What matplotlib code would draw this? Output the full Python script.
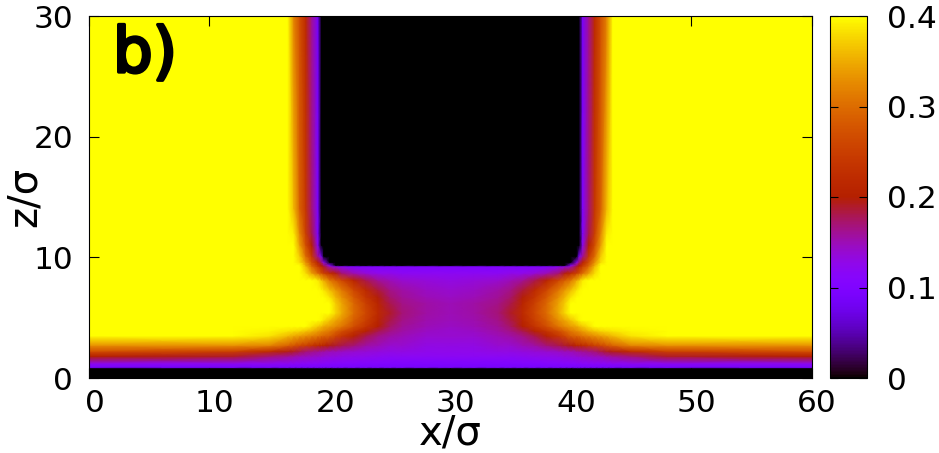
import numpy as np
import matplotlib
matplotlib.use("Agg")
import matplotlib.pyplot as plt
import matplotlib.patheffects as pe
from matplotlib.transforms import ScaledTranslation

# grid of the left half, the field is mirrored around x=30
x_half = [0, 12, 15, 16.5, 17, 17.5, 18, 18.5, 19, 19.3, 19.5, 20, 20.5, 21, 22, 23, 24, 25, 26, 28, 30]
z_vals = [0, 0.8, 0.9, 1.2, 1.8, 2.2, 2.7, 3.5, 3.9, 4.3, 4.8, 5.4, 6.2, 6.7, 7.3, 8.1, 8.7, 9.25, 9.35, 9.6, 10.1, 11, 12, 14, 30]

# density, one row per z
rho_half = [
    [0, 0, 0, 0, 0, 0, 0, 0, 0, 0, 0, 0, 0, 0, 0, 0, 0, 0, 0, 0, 0],
    [0, 0, 0, 0, 0, 0, 0, 0, 0, 0, 0, 0, 0, 0, 0, 0, 0, 0, 0, 0, 0],
    [.09, .09, .09, .09, .09, .09, .09, .09, .09, .09, .09, .09, .09, .09, .09, .09, .09, .09, .09, .09, .09],
    [.12, .12, .12, .118, .116, .115, .114, .113, .112, .11, .11, .108, .106, .105, .105, .103, .102, .10, .10, .10, .10],
    [.20, .19, .17, .16, .155, .15, .148, .145, .142, .14, .138, .135, .133, .13, .128, .125, .122, .12, .12, .12, .12],
    [.27, .25, .22, .195, .19, .18, .17, .165, .16, .157, .155, .15, .148, .145, .14, .137, .133, .13, .13, .125, .125],
    [.33, .33, .32, .29, .275, .26, .25, .235, .22, .213, .21, .195, .188, .18, .17, .155, .15, .14, .14, .13, .13],
    [.40, .40, .385, .36, .35, .34, .33, .32, .31, .30, .295, .285, .26, .24, .205, .18, .165, .155, .15, .14, .14],
    [.40, .40, .395, .385, .38, .375, .365, .355, .34, .33, .325, .31, .29, .27, .235, .205, .18, .165, .155, .145, .14],
    [.40, .40, .40, .40, .40, .40, .40, .385, .37, .36, .35, .34, .325, .31, .27, .235, .20, .175, .16, .15, .145],
    [.40, .40, .40, .40, .40, .40, .40, .40, .40, .395, .385, .365, .345, .33, .285, .25, .21, .182, .165, .152, .148],
    [.40, .40, .40, .40, .40, .40, .40, .40, .40, .40, .40, .40, .375, .35, .30, .26, .22, .19, .17, .155, .15],
    [.40, .40, .40, .40, .40, .40, .40, .40, .40, .40, .40, .40, .37, .345, .295, .25, .21, .18, .165, .155, .15],
    [.40, .40, .40, .40, .40, .40, .40, .40, .40, .40, .40, .385, .355, .33, .28, .235, .197, .172, .16, .15, .145],
    [.40, .40, .40, .40, .40, .40, .40, .40, .40, .395, .385, .36, .335, .31, .26, .22, .185, .165, .155, .145, .14],
    [.40, .40, .40, .40, .40, .40, .40, .40, .39, .365, .35, .31, .285, .26, .21, .18, .16, .15, .14, .135, .13],
    [.40, .40, .40, .40, .40, .40, .38, .34, .30, .27, .25, .22, .195, .17, .15, .135, .125, .125, .12, .12, .12],
    [.40, .40, .40, .40, .40, .40, .36, .30, .25, .22, .19, .15, .13, .12, .10, .10, .10, .10, .10, .10, .10],
    [.40, .40, .40, .40, .40, .40, .35, .29, .24, .20, .175, .11, 0, 0, 0, 0, 0, 0, 0, 0, 0],
    [.40, .40, .40, .40, .40, .38, .33, .27, .21, .17, .12, 0, 0, 0, 0, 0, 0, 0, 0, 0, 0],
    [.40, .40, .40, .40, .40, .37, .30, .24, .16, .09, 0, 0, 0, 0, 0, 0, 0, 0, 0, 0, 0],
    [.40, .40, .40, .40, .40, .34, .27, .20, .12, 0, 0, 0, 0, 0, 0, 0, 0, 0, 0, 0, 0],
    [.40, .40, .40, .40, .39, .32, .25, .18, .10, 0, 0, 0, 0, 0, 0, 0, 0, 0, 0, 0, 0],
    [.40, .40, .40, .40, .36, .29, .24, .17, .10, 0, 0, 0, 0, 0, 0, 0, 0, 0, 0, 0, 0],
    [.40, .40, .40, .40, .32, .27, .22, .16, .09, 0, 0, 0, 0, 0, 0, 0, 0, 0, 0, 0, 0],
]

x_ticks = [0, 10, 20, 30, 40, 50, 60]
z_ticks = [0, 10, 20, 30]
cb_ticks = [0, 0.1, 0.2, 0.3, 0.4]
cb_labels = ["0", "0.1", "0.2", "0.3", "0.4"]

W, H = 939, 453
TICK_FS = 22.5
LABEL_FS = 29


def main():
    half = np.array(rho_half)
    xh = np.array(x_half)
    x = np.concatenate([xh, 60 - xh[-2::-1]])
    rho = np.hstack([half, half[:, -2::-1]])
    z = np.array(z_vals)

    plt.rcParams["axes.linewidth"] = 0.8

    fig = plt.figure(figsize=(W / 100, H / 100), dpi=100)
    ax = fig.add_axes([89 / W, 1 - 378 / H, 722.5 / W, 362 / H])
    cax = fig.add_axes([829.5 / W, 1 - 378 / H, 37 / W, 362 / H])

    mesh = ax.pcolormesh(x, z, rho, shading="gouraud", cmap="gnuplot", vmin=0, vmax=0.4)
    ax.set_xlim(0, 60)
    ax.set_ylim(0, 30)
    ax.set_xticks(x_ticks)
    ax.set_yticks(z_ticks)
    ax.set_xticklabels([str(t) for t in x_ticks])
    ax.tick_params(direction="in", length=7.2, width=0.8, top=True, right=True, labelsize=TICK_FS)
    ax.tick_params(axis="x", pad=8)
    ax.tick_params(axis="y", pad=11.5)

    # the x labels sit a little right of their ticks in the original
    shift = ScaledTranslation(5.5 / 100, 0, fig.dpi_scale_trans)
    for lab in ax.get_xticklabels():
        lab.set_transform(lab.get_transform() + shift)

    ax.text(0.5, -67 / 362, "x/σ", transform=ax.transAxes, fontsize=LABEL_FS, ha="center", va="baseline")
    ax.text(-53 / 722.5, 0.5, "z/σ", transform=ax.transAxes, fontsize=LABEL_FS, rotation=90,
            rotation_mode="anchor", ha="center", va="baseline")
    panel = ax.text(24 / 722.5, 1 - 56 / 362, "b)", transform=ax.transAxes, fontsize=45,
                    ha="left", va="baseline", color="black")
    panel.set_path_effects([pe.withStroke(linewidth=2.4, foreground="black")])

    cb = fig.colorbar(mesh, cax=cax)
    cb.set_ticks(cb_ticks)
    cb.set_ticklabels(cb_labels)
    cb.outline.set_linewidth(0.8)
    cax.tick_params(direction="in", length=6, width=0.8, left=True, right=True, labelsize=TICK_FS, pad=14.5)

    fig.savefig("out.png", dpi=100)
    plt.close(fig)


if __name__ == "__main__":
    main()
